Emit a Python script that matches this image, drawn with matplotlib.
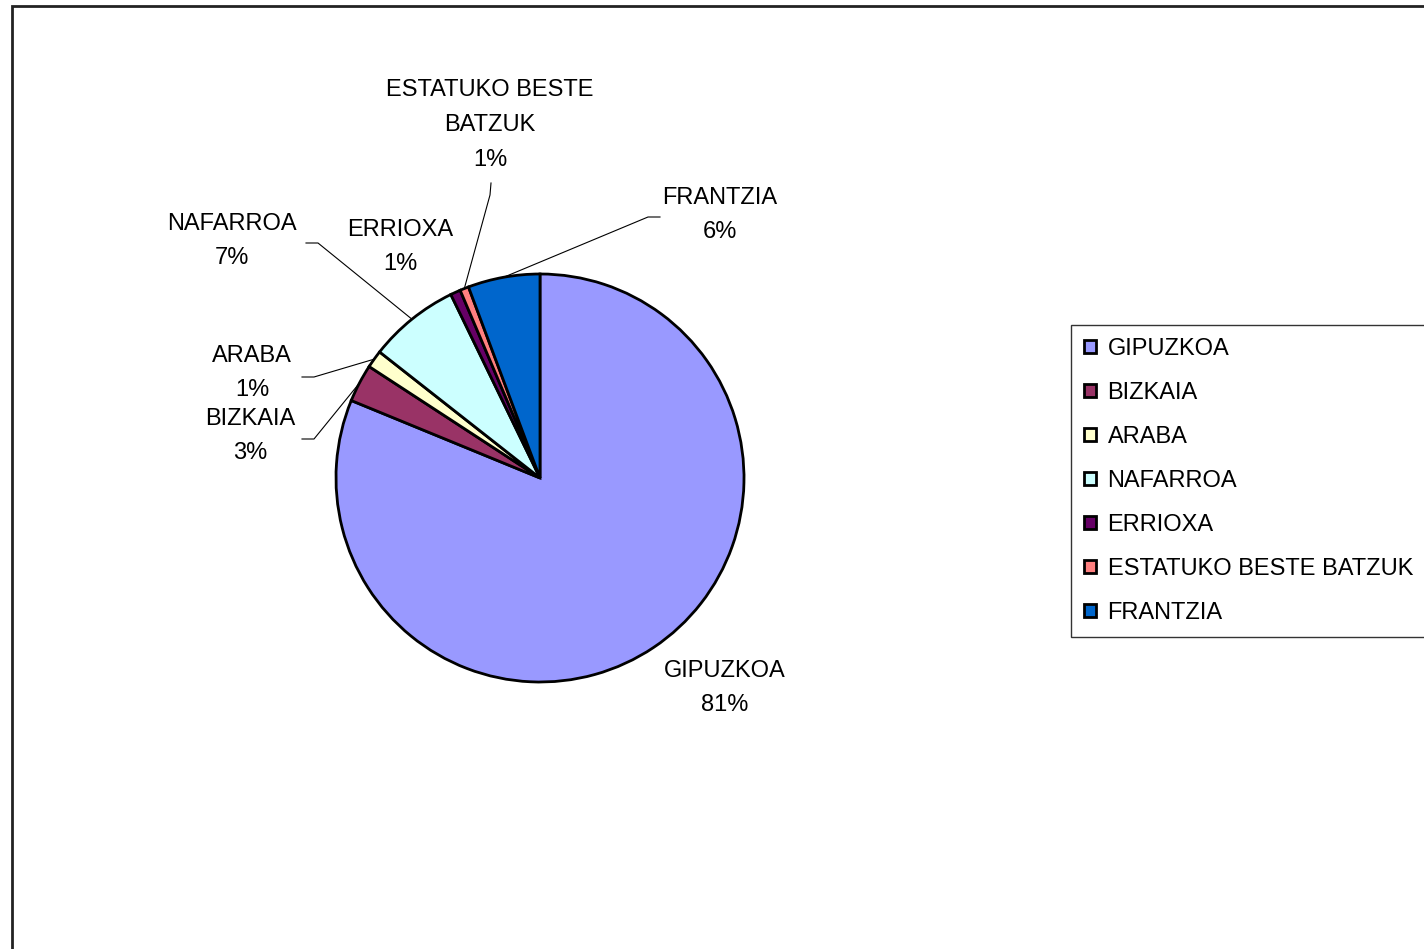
import matplotlib
matplotlib.use('Agg')
import matplotlib.pyplot as plt
from matplotlib.patches import Rectangle
import numpy as np

plt.rcParams['font.family'] = ['Liberation Sans', 'DejaVu Sans']

# data
regions = ['GIPUZKOA', 'BIZKAIA', 'ARABA', 'NAFARROA', 'ERRIOXA',
           'ESTATUKO BESTE BATZUK', 'FRANTZIA']
pie_names = ['GIPUZKOA', 'BIZKAIA', 'ARABA', 'NAFARROA', 'ERRIOXA',
             'ESTATUKO BESTE\nBATZUK', 'FRANTZIA']
shares = [81.2, 3.0, 1.4, 7.2, 0.8, 0.7, 5.7]
colors = ['#9999FF', '#993366', '#FFFFCC', '#CCFFFF', '#660066',
          '#FF8080', '#0066CC']

W, H = 1424, 949
FS = 17

# label layout in pixel coords (y down): text centre, leader start, elbow
label_pos = [(725, 688), (250, 436), (252, 373), (232, 241),
             (400, 247), (490, 125), (720, 215)]
leaders = [None, ((302, 439), (314, 439)), ((302, 377), (314, 377)),
           ((306, 243), (318, 243)), None,
           ((491, 183), (490, 195)), ((660, 217), (648, 217))]


def fy(y):
  return H - y


fig = plt.figure(figsize=(W / 100, H / 100), dpi=100)
ax = fig.add_axes([0, 0, 1, 1])

cx, cy, r = 540, fy(478), 204
wedges, _ = ax.pie(shares, colors=colors, startangle=90, counterclock=False,
                   center=(cx, cy), radius=r,
                   wedgeprops=dict(edgecolor='black', linewidth=2))
ax.set_xlim(0, W)
ax.set_ylim(0, H)
ax.set_aspect('equal')
ax.axis('off')

total = sum(shares)
for i, w in enumerate(wedges):
  pct = shares[i] / total * 100
  tx, ty = label_pos[i]
  ax.text(tx, fy(ty), f'{pie_names[i]}\n{pct:.0f}%', ha='center', va='center',
          fontsize=FS, linespacing=1.76)
  if leaders[i] is not None:
    mid = np.deg2rad((w.theta1 + w.theta2) / 2)
    ex, ey = cx + r * np.cos(mid), cy + r * np.sin(mid)
    (sx, sy), (kx, ky) = leaders[i]
    ax.plot([sx, kx, ex], [fy(sy), fy(ky), ey], color='black', lw=0.8)

leg = ax.legend(wedges, regions, loc='upper left',
                bbox_to_anchor=(1071 / W, 1 - 325 / H),
                bbox_transform=fig.transFigure, borderaxespad=0,
                fontsize=FS, frameon=True, fancybox=False,
                handlelength=0.5, handleheight=0.5, handletextpad=0.5,
                labelspacing=0.93, borderpad=0.55)
leg.get_frame().set_edgecolor('black')
leg.get_frame().set_linewidth(1)

fig.patches.append(Rectangle((12 / W, -0.01), 1.1, 1 - 6 / H + 0.01,
                             transform=fig.transFigure, fill=False,
                             edgecolor='#222222', linewidth=2))

fig.savefig('out.png', dpi=100)
